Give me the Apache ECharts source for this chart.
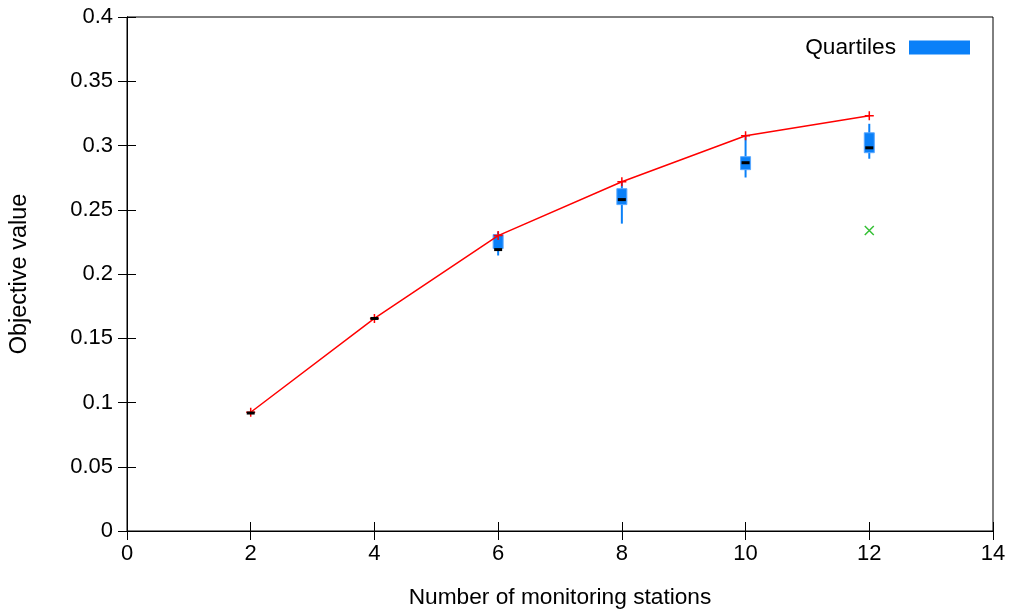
<!DOCTYPE html>
<html>
<head>
<meta charset="utf-8">
<script src="https://cdn.jsdelivr.net/npm/echarts@6/dist/echarts.min.js"></script>
<style>
html,body{margin:0;padding:0;background:#fff;}
#chart{width:1014px;height:614px;}
</style>
</head>
<body>
<div id="chart"></div>
<script>
// Number of monitoring stations
const stations = [2, 4, 6, 8, 10, 12];
// Best objective value (red line)
const bestValues = [0.0924, 0.1654, 0.2299, 0.2718, 0.3076, 0.3231];
// Quartile box data
const boxMin    = [0.0924, 0.1654, 0.2144, 0.2392, 0.2751, 0.2897];
const boxQ1     = [0.0924, 0.1654, 0.2198, 0.2540, 0.2812, 0.2944];
const boxMedian = [0.0918, 0.1654, 0.2190, 0.2579, 0.2866, 0.2982];
const boxQ3     = [0.0924, 0.1654, 0.2307, 0.2664, 0.2913, 0.3099];
const boxMax    = [0.0924, 0.1654, 0.2330, 0.2726, 0.3083, 0.3169];
// Outliers
const outlierX = [12];
const outlierY = [0.2338];
// Axis ticks
const xMin = 0, xMax = 14, xStep = 2;
const yMin = 0, yMax = 0.4, yStep = 0.05;

const FONT = 'Liberation Sans, Arial, sans-serif';
const BLUE = '#0a80f8';

const boxData = stations.map((s, i) => [s, boxMin[i], boxQ1[i], boxMedian[i], boxQ3[i], boxMax[i]]);
const medData = stations.map((s, i) => [s, boxMedian[i]]);
const lineData = stations.map((s, i) => [s, bestValues[i]]);
const outData = outlierX.map((x, i) => [x, outlierY[i]]);

const chart = echarts.init(document.getElementById('chart'), null, {renderer: 'canvas'});

const tickStyle = {show: true, inside: true, length: 9, lineStyle: {color: '#000', width: 1}};
const labelStyle = {color: '#000', fontFamily: FONT, fontSize: 22};
const HALF_W = 5;

chart.setOption({
  animation: false,
  backgroundColor: '#fff',
  grid: {left: 125, right: 21, top: 17, bottom: 82, show: true, borderColor: '#000', borderWidth: 1, containLabel: false},
  legend: {
    show: true,
    top: 31, right: 39,
    align: 'right',
    itemWidth: 61, itemHeight: 14,
    icon: 'rect',
    data: [{name: 'Quartiles', icon: 'rect', itemStyle: {color: BLUE}}],
    textStyle: {color: '#000', fontFamily: FONT, fontSize: 22.7, padding: [0, 8, 0, 0]}
  },
  xAxis: [{
    type: 'value', min: xMin, max: xMax, interval: xStep,
    name: 'Number of monitoring stations', nameLocation: 'middle', nameGap: 55,
    nameTextStyle: {color: '#000', fontFamily: FONT, fontSize: 22.7},
    axisLine: {show: true, lineStyle: {color: '#000'}},
    axisTick: tickStyle,
    axisLabel: Object.assign({margin: 12}, labelStyle),
    splitLine: {show: false}
  }, {
    type: 'value', position: 'top', min: xMin, max: xMax, interval: xStep,
    axisLine: {show: true, lineStyle: {color: '#000'}},
    axisTick: tickStyle, axisLabel: {show: false}, splitLine: {show: false}
  }],
  yAxis: [{
    type: 'value', min: yMin, max: yMax, interval: yStep,
    name: 'Objective value', nameLocation: 'middle', nameGap: 95, nameRotate: 90,
    nameTextStyle: {color: '#000', fontFamily: FONT, fontSize: 23.5},
    axisLine: {show: true, lineStyle: {color: '#000'}},
    axisTick: tickStyle,
    axisLabel: Object.assign({margin: 14}, labelStyle),
    splitLine: {show: false}
  }, {
    type: 'value', position: 'right', min: yMin, max: yMax, interval: yStep,
    axisLine: {show: true, lineStyle: {color: '#000'}},
    axisTick: tickStyle, axisLabel: {show: false}, splitLine: {show: false}
  }],
  series: [{
    name: 'Quartiles',
    type: 'custom',
    xAxisIndex: 0, yAxisIndex: 0,
    itemStyle: {color: BLUE},
    z: 2,
    encode: {x: 0, y: [1, 2, 3, 4, 5]},
    data: boxData,
    renderItem: function (params, api) {
      const x = api.value(0);
      const pMin = api.coord([x, api.value(1)]);
      const pQ1 = api.coord([x, api.value(2)]);
      const pQ3 = api.coord([x, api.value(4)]);
      const pMax = api.coord([x, api.value(5)]);
      const children = [];
      children.push({
        type: 'line',
        shape: {x1: pMin[0], y1: pMin[1], x2: pMax[0], y2: pMax[1]},
        style: {stroke: BLUE, lineWidth: 2}
      });
      if (pQ1[1] - pQ3[1] > 0.5) {
        children.push({
          type: 'rect',
          shape: {x: pQ3[0] - HALF_W, y: pQ3[1], width: HALF_W * 2, height: pQ1[1] - pQ3[1]},
          style: {fill: BLUE, stroke: '#5aa8ff', lineWidth: 1}
        });
      }
      return {type: 'group', children: children};
    }
  }, {
    name: 'Best',
    type: 'line',
    xAxisIndex: 0, yAxisIndex: 0,
    data: lineData,
    z: 5,
    lineStyle: {color: '#ff0000', width: 1.5},
    symbol: 'path://M4,0L4,8M0,4L8,4',
    symbolSize: 9,
    showSymbol: true,
    itemStyle: {color: 'none', borderColor: '#ff0000', borderWidth: 1.5}
  }, {
    name: 'Median',
    type: 'custom',
    xAxisIndex: 0, yAxisIndex: 0,
    z: 6,
    encode: {x: 0, y: 1},
    data: medData,
    renderItem: function (params, api) {
      const p = api.coord([api.value(0), api.value(1)]);
      return {
        type: 'line',
        shape: {x1: p[0] - HALF_W + 1, y1: p[1], x2: p[0] + HALF_W - 1, y2: p[1]},
        style: {stroke: '#000', lineWidth: 3}
      };
    }
  }, {
    name: 'Outliers',
    type: 'scatter',
    xAxisIndex: 0, yAxisIndex: 0,
    data: outData,
    z: 5,
    symbol: 'path://M0,0L8,8M8,0L0,8',
    symbolSize: 9,
    itemStyle: {color: 'none', borderColor: '#00b000', borderWidth: 1.5}
  }]
});
</script>
</body>
</html>
